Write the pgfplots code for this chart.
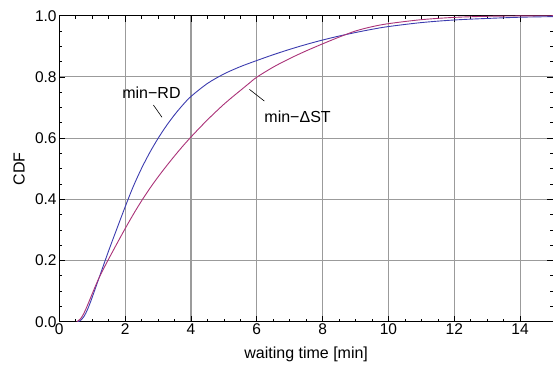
\documentclass[border=0pt]{standalone}
\usepackage{fontspec}
\setmainfont{Liberation Sans}
\usepackage{pgfplots}
\pgfplotsset{compat=1.18}
\definecolor{rdblue}{RGB}{60,60,175}
\definecolor{stmag}{RGB}{170,50,120}
\definecolor{gridgray}{RGB}{155,155,155}
\begin{document}
\begin{tikzpicture}
\begin{axis}[
  scale only axis, width=493.7pt, height=306pt,
  xmin=0, xmax=15, ymin=0, ymax=1,
  xtick={0,2,4,6,8,10,12,14}, ytick={0,0.2,0.4,0.6,0.8,1},
  minor x tick num=3, minor y tick num=3,
  tick align=inside, major tick length=6pt, minor tick length=3pt,
  grid=major, major grid style={gridgray, line width=1.1pt},
  axis line style={line width=1pt},
  tick style={black, line width=0.6pt},
  /pgf/number format/assume math mode=true,
  ticklabel style={font=\fontsize{15.5}{18}\selectfont},
  xticklabel style={inner sep=2pt},
  yticklabel style={inner sep=2.5pt, /pgf/number format/fixed, /pgf/number format/precision=1, /pgf/number format/fixed zerofill},
  xlabel={waiting time [min]}, ylabel={CDF},
  label style={font=\fontsize{16}{19}\selectfont},
  xlabel style={at={(axis description cs:0.5,0)}, anchor=base, yshift=-36.3pt},
  ylabel style={at={(axis description cs:-0.0816,0.5)}, anchor=center},
]
\addplot[rdblue, line width=0.9pt, smooth] coordinates {
 (0.57,0) (0.65,0.005) (0.75,0.017) (0.85,0.038) (0.95,0.065) (1.05,0.095) (1.25,0.156)
 (1.5,0.232) (1.75,0.304) (2.0,0.375) (2.25,0.4425) (2.5,0.5013) (2.75,0.5531) (3.0,0.5989)
 (3.25,0.6397) (3.5,0.676) (3.75,0.708) (4.0,0.736) (4.5,0.7785) (5.0,0.8095) (5.5,0.8335)
 (6.0,0.8535) (6.5,0.8725) (7.0,0.89) (7.5,0.906) (8.0,0.9205) (8.5,0.9335) (9.0,0.945)
 (9.5,0.9555) (10,0.9645) (11,0.9775) (12,0.986) (13,0.991) (14,0.995) (15,0.997)
};
\addplot[stmag, line width=0.9pt, smooth] coordinates {
 (0.53,0) (0.65,0.01) (0.75,0.028) (0.85,0.052) (0.95,0.078) (1.1,0.117) (1.22,0.146)
 (1.35,0.174) (1.5,0.205) (1.75,0.255) (2.0,0.304) (2.25,0.351) (2.5,0.395) (2.75,0.4355)
 (3.0,0.473) (3.25,0.508) (3.5,0.5415) (3.75,0.5735) (4.0,0.6035) (4.25,0.632) (4.5,0.6595)
 (4.75,0.6855) (5.0,0.7105) (5.25,0.7335) (5.5,0.7555) (5.75,0.7775) (6.0,0.799) (6.5,0.832)
 (7.0,0.86) (7.5,0.885) (8.0,0.908) (8.5,0.93) (9.0,0.95) (9.5,0.964) (10,0.974)
 (11,0.987) (12,0.9945) (13,0.998) (14,0.9993) (15,1.0)
};
\node[font=\fontsize{16}{19}\selectfont] at (axis cs:2.80,0.747) {min−RD};
\draw[black, line width=0.6pt] (axis cs:2.86,0.708) -- (axis cs:3.12,0.668);
\node[font=\fontsize{16}{19}\selectfont] at (axis cs:7.24,0.670) {min−ΔST};
\draw[black, line width=0.6pt] (axis cs:5.78,0.759) -- (axis cs:6.23,0.721);
\end{axis}
\pgfresetboundingbox
\path ([shift={(-59.3pt,-44.3pt)}]current axis.south west) rectangle ([shift={(0pt,15.7pt)}]current axis.north east);
\end{tikzpicture}
\end{document}
